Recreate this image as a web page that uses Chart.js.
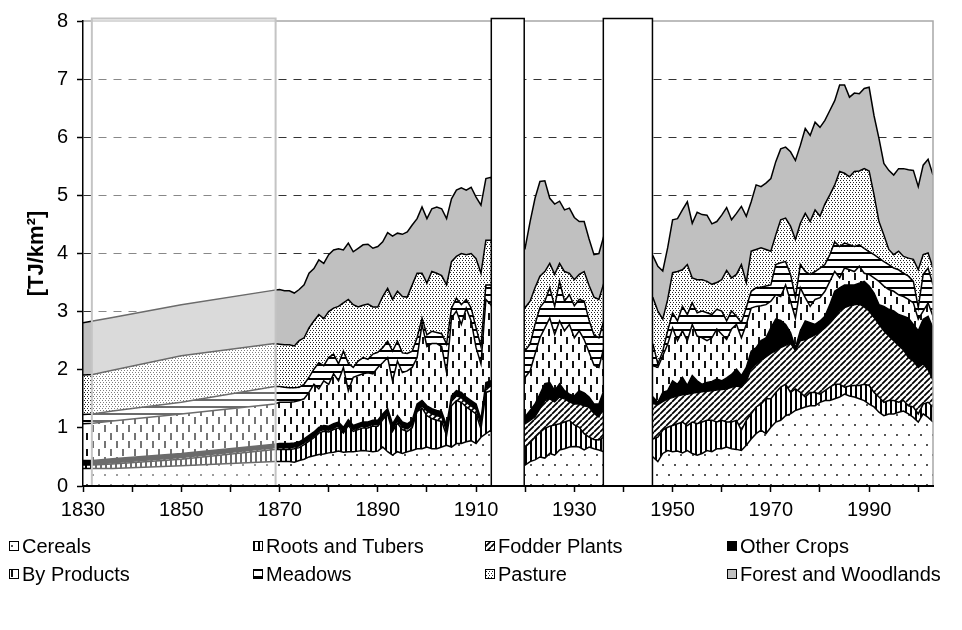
<!DOCTYPE html>
<html>
<head>
<meta charset="utf-8">
<script src="https://cdn.jsdelivr.net/npm/chart.js"></script>
<style>
  body { margin: 0; background: #fff; }
  #wrap { position: relative; width: 962px; height: 630px; }
  #legend { position: absolute; left: 0; top: 0; font: 20px "Liberation Sans", Arial, sans-serif; color: #000; }
  .item { position: absolute; white-space: nowrap; height: 22px; line-height: 22px; }
  .item canvas { position: absolute; left: 0; top: 6px; }
  .item span { position: absolute; left: 13px; top: 0; }
</style>
</head>
<body>
<div id="wrap">
  <canvas id="chart1" width="962" height="630"></canvas>
  <div id="legend"></div>
</div>
<script>
// energy per area, stacked by land use class

var years = [1830, 1832, 1836, 1850, 1869,
  1870, 1871, 1872, 1873, 1874, 1875, 1876, 1877, 1878, 1879, 1880, 1881, 1882, 1883, 1884, 1885,
  1886, 1887, 1888, 1889, 1890, 1891, 1892, 1893, 1894, 1895, 1896, 1897, 1898, 1899, 1900, 1901,
  1902, 1903, 1904, 1905, 1906, 1907, 1908, 1909, 1910, 1911, 1912, 1913,
  1920, 1921, 1922, 1923, 1924, 1925, 1926, 1927, 1928, 1929, 1930, 1931, 1932, 1933, 1934, 1935, 1936,
  1946, 1947, 1948, 1949, 1950, 1951, 1952, 1953, 1954, 1955, 1956, 1957, 1958, 1959, 1960, 1961,
  1962, 1963, 1964, 1965, 1966, 1967, 1968, 1969, 1970, 1971, 1972, 1973, 1974, 1975, 1976, 1977,
  1978, 1979, 1980, 1981, 1982, 1983, 1984, 1985, 1986, 1987, 1988, 1989, 1990, 1991, 1992, 1993,
  1994, 1995, 1996, 1997, 1998, 1999, 2000, 2001, 2002, 2003];

var cereals = [0.30, 0.30, 0.30, 0.35, 0.42,
  0.42, 0.42, 0.42, 0.41, 0.44, 0.46, 0.50, 0.52, 0.54, 0.55, 0.57, 0.58, 0.60, 0.58, 0.59, 0.59,
  0.60, 0.61, 0.60, 0.59, 0.60, 0.67, 0.59, 0.53, 0.59, 0.56, 0.59, 0.61, 0.64, 0.64, 0.67, 0.64,
  0.64, 0.67, 0.70, 0.67, 0.73, 0.73, 0.76, 0.78, 0.73, 0.84, 0.90, 0.96,
  0.36, 0.42, 0.45, 0.50, 0.48, 0.56, 0.53, 0.62, 0.64, 0.67, 0.68, 0.67, 0.62, 0.67, 0.64, 0.62, 0.59,
  0.50, 0.42, 0.56, 0.61, 0.59, 0.60, 0.57, 0.61, 0.56, 0.53, 0.56, 0.61, 0.59, 0.64, 0.64, 0.67,
  0.64, 0.63, 0.61, 0.70, 0.81, 0.90, 0.96, 0.90, 1.01, 1.10, 1.13, 1.21, 1.24, 1.30, 1.33, 1.36,
  1.38, 1.38, 1.44, 1.47, 1.47, 1.50, 1.53, 1.58, 1.55, 1.53, 1.50, 1.47, 1.41, 1.36, 1.27, 1.21,
  1.24, 1.24, 1.27, 1.29, 1.24, 1.18, 1.10, 1.24, 1.18, 1.10];

var roots = [0.06, 0.06, 0.08, 0.11, 0.21,
  0.21, 0.21, 0.21, 0.23, 0.22, 0.25, 0.27, 0.31, 0.37, 0.39, 0.36, 0.39, 0.40, 0.33, 0.45, 0.35,
  0.37, 0.39, 0.40, 0.44, 0.43, 0.47, 0.64, 0.41, 0.49, 0.41, 0.35, 0.39, 0.64, 0.70, 0.54, 0.52,
  0.49, 0.44, 0.17, 0.71, 0.74, 0.71, 0.60, 0.52, 0.51, 0.14, 0.71, 0.68,
  0.31, 0.33, 0.39, 0.42, 0.51, 0.47, 0.52, 0.45, 0.46, 0.46, 0.37, 0.34, 0.28, 0.17, 0.16, 0.17, 0.25,
  0.31, 0.42, 0.40, 0.40, 0.45, 0.47, 0.53, 0.43, 0.54, 0.54, 0.54, 0.52, 0.54, 0.46, 0.49, 0.43,
  0.46, 0.50, 0.35, 0.43, 0.43, 0.46, 0.45, 0.60, 0.49, 0.51, 0.57, 0.54, 0.37, 0.37, 0.28, 0.17,
  0.23, 0.23, 0.14, 0.17, 0.23, 0.25, 0.22, 0.12, 0.17, 0.20, 0.23, 0.28, 0.32, 0.25, 0.26, 0.23,
  0.23, 0.23, 0.17, 0.18, 0.14, 0.18, 0.14, 0.17, 0.26, 0.26];

var fodder = [0.01, 0.01, 0.02, 0.03, 0.03,
  0.03, 0.03, 0.03, 0.03, 0.03, 0.03, 0.03, 0.03, 0.03, 0.03, 0.03, 0.03, 0.03, 0.03, 0.03, 0.03,
  0.03, 0.03, 0.03, 0.03, 0.03, 0.03, 0.03, 0.04, 0.04, 0.04, 0.04, 0.04, 0.04, 0.04, 0.08, 0.08,
  0.08, 0.08, 0.08, 0.08, 0.08, 0.08, 0.08, 0.08, 0.08, 0.08, 0.08, 0.08,
  0.40, 0.38, 0.35, 0.41, 0.48, 0.47, 0.40, 0.46, 0.40, 0.32, 0.36, 0.40, 0.48, 0.52, 0.45, 0.40, 0.52,
  0.61, 0.56, 0.49, 0.49, 0.48, 0.48, 0.47, 0.54, 0.50, 0.54, 0.52, 0.50, 0.51, 0.55, 0.53, 0.57,
  0.60, 0.59, 0.74, 0.67, 0.78, 0.74, 0.75, 0.72, 0.78, 0.72, 0.68, 0.67, 0.85, 0.66, 0.89, 0.99,
  0.95, 0.99, 1.07, 1.08, 1.10, 1.15, 1.27, 1.37, 1.38, 1.39, 1.40, 1.33, 1.28, 1.29, 1.25, 1.23,
  1.11, 1.03, 0.98, 0.87, 0.83, 0.79, 0.80, 0.69, 0.56, 0.46];

var otherCrops = [0.07, 0.07, 0.07, 0.07, 0.06,
  0.07, 0.07, 0.07, 0.07, 0.07, 0.07, 0.07, 0.07, 0.07, 0.07, 0.07, 0.07, 0.07, 0.07, 0.07, 0.07,
  0.07, 0.07, 0.07, 0.07, 0.07, 0.07, 0.07, 0.09, 0.09, 0.09, 0.09, 0.09, 0.09, 0.09, 0.09, 0.09,
  0.09, 0.09, 0.09, 0.09, 0.09, 0.09, 0.09, 0.09, 0.09, 0.09, 0.09, 0.09,
  0.12, 0.17, 0.22, 0.25, 0.29, 0.28, 0.19, 0.23, 0.14, 0.13, 0.14, 0.23, 0.22, 0.17, 0.16, 0.22, 0.28,
  0.11, 0.04, 0.16, 0.14, 0.29, 0.20, 0.30, 0.15, 0.30, 0.20, 0.13, 0.15, 0.16, 0.19, 0.15, 0.19,
  0.22, 0.29, 0.20, 0.24, 0.30, 0.28, 0.34, 0.33, 0.44, 0.54, 0.47, 0.36, 0.18, 0.05, 0.17, 0.32,
  0.25, 0.18, 0.19, 0.20, 0.32, 0.45, 0.39, 0.39, 0.36, 0.34, 0.36, 0.44, 0.43, 0.42, 0.34, 0.42,
  0.46, 0.51, 0.53, 0.58, 0.68, 0.63, 0.63, 0.77, 0.92, 0.90];

var byProducts = [0.63, 0.64, 0.65, 0.68, 0.69,
  0.71, 0.71, 0.71, 0.71, 0.71, 0.69, 0.74, 0.82, 0.66, 0.77, 0.72, 0.86, 0.71, 1.03, 0.50, 0.83,
  0.83, 0.83, 0.85, 0.80, 0.91, 0.88, 0.88, 0.74, 0.94, 0.85, 0.91, 0.91, 0.80, 1.31, 1.02, 1.12,
  1.15, 1.12, 0.91, 1.34, 1.37, 1.17, 1.53, 1.37, 0.97, 0.95, 1.43, 1.31,
  0.68, 0.68, 0.86, 0.97, 0.96, 1.11, 0.97, 1.08, 1.03, 1.20, 1.00, 1.03, 0.92, 0.77, 0.67, 0.63, 0.74,
  0.54, 0.60, 0.63, 0.80, 0.91, 0.75, 0.80, 0.77, 0.88, 0.77, 0.80, 0.72, 0.75, 0.86, 0.80, 0.66,
  0.78, 0.77, 0.65, 0.74, 0.74, 0.71, 0.60, 0.57, 0.46, 0.42, 0.41, 0.68, 0.54, 0.51, 0.74, 0.40,
  0.28, 0.43, 0.40, 0.43, 0.40, 0.34, 0.17, 0.29, 0.26, 0.23, 0.29, 0.14, 0.20, 0.26, 0.40, 0.35,
  0.34, 0.34, 0.34, 0.34, 0.32, 0.37, 0.20, 0.14, 0.23, 0.20];

var meadows = [0.16, 0.16, 0.17, 0.20, 0.30,
  0.27, 0.26, 0.25, 0.24, 0.23, 0.25, 0.26, 0.26, 0.45, 0.26, 0.46, 0.34, 0.29, 0.28, 0.47, 0.17,
  0.25, 0.28, 0.23, 0.34, 0.26, 0.26, 0.28, 0.51, 0.34, 0.34, 0.30, 0.28, 0.34, 0.11, 0.20, 0.21,
  0.19, 0.22, 0.49, 0.17, 0.22, 0.34, 0.15, 0.22, 0.34, 0.30, 0.25, 0.34,
  0.46, 0.46, 0.51, 0.52, 0.46, 0.52, 0.48, 0.68, 0.51, 0.51, 0.55, 0.54, 0.66, 0.55, 0.52, 0.51, 0.46,
  0.37, 0.06, 0.08, 0.23, 0.26, 0.34, 0.42, 0.45, 0.37, 0.40, 0.46, 0.48, 0.40, 0.34, 0.40, 0.32,
  0.31, 0.14, 0.26, 0.29, 0.29, 0.32, 0.32, 0.32, 0.28, 0.52, 0.58, 0.40, 0.46, 0.35, 0.40, 0.45,
  0.55, 0.48, 0.51, 0.46, 0.46, 0.51, 0.54, 0.43, 0.43, 0.43, 0.37, 0.43, 0.39, 0.40, 0.40, 0.42,
  0.43, 0.40, 0.43, 0.40, 0.40, 0.37, 0.20, 0.63, 0.60, 0.54];

var pasture = [0.68, 0.68, 0.70, 0.80, 0.74,
  0.73, 0.73, 0.74, 0.72, 0.80, 0.80, 0.85, 0.83, 0.83, 0.81, 0.79, 0.79, 0.99, 0.83, 1.10, 1.08,
  0.93, 0.90, 0.95, 0.81, 0.78, 0.88, 0.91, 0.89, 0.86, 0.97, 0.97, 1.14, 1.11, 0.77, 0.89, 1.03,
  1.02, 1.00, 1.02, 0.80, 0.72, 0.88, 0.77, 0.94, 1.19, 1.26, 0.77, 0.77,
  0.74, 0.74, 0.63, 0.54, 0.51, 0.42, 0.55, 0.31, 0.51, 0.37, 0.45, 0.43, 0.51, 0.60, 0.65, 0.66, 0.65,
  0.80, 0.91, 0.55, 0.54, 0.69, 0.85, 0.63, 0.86, 0.43, 0.57, 0.54, 0.54, 0.52, 0.46, 0.54, 0.87,
  0.57, 0.72, 1.00, 0.43, 0.69, 0.66, 0.68, 0.63, 0.58, 0.51, 0.74, 0.75, 0.83, 1.00, 0.71, 1.00,
  0.91, 1.06, 0.89, 1.04, 1.03, 0.98, 1.29, 1.20, 1.17, 1.29, 1.27, 1.37, 1.39, 1.03, 0.63, 0.46,
  0.26, 0.23, 0.32, 0.29, 0.31, 0.38, 0.65, 0.34, 0.26, 0.29];

var forest = [0.90, 0.92, 0.91, 0.88, 0.92,
  0.94, 0.93, 0.93, 0.91, 0.88, 0.91, 0.94, 0.90, 0.94, 0.95, 0.98, 1.00, 0.99, 0.91, 0.97, 0.91,
  1.01, 1.04, 1.03, 1.01, 1.04, 0.94, 0.96, 1.09, 1.00, 1.07, 1.12, 1.03, 0.94, 1.14, 1.11, 1.08,
  1.14, 1.15, 1.14, 1.08, 1.14, 1.13, 1.11, 1.14, 1.06, 1.17, 1.06, 1.08,
  1.03, 1.37, 1.54, 1.63, 1.56, 1.12, 1.21, 1.07, 1.06, 1.12, 1.07, 0.91, 0.86, 0.80, 0.73, 0.79, 0.81,
  0.72, 0.77, 0.83, 0.89, 0.91, 0.91, 1.03, 1.08, 0.94, 1.16, 1.12, 1.14, 1.04, 1.05, 1.11, 1.08,
  1.00, 1.05, 1.00, 1.14, 0.85, 1.11, 1.05, 1.14, 1.25, 1.26, 1.22, 1.22, 1.28, 1.36, 1.34, 1.46,
  1.48, 1.51, 1.53, 1.44, 1.45, 1.45, 1.49, 1.52, 1.37, 1.35, 1.33, 1.38, 1.44, 1.36, 1.43, 1.23,
  1.36, 1.37, 1.42, 1.51, 1.52, 1.53, 1.43, 1.54, 1.61, 1.60];

var seriesNames = ['Cereals', 'Roots and Tubers', 'Fodder Plants', 'Other Crops',
  'By Products', 'Meadows', 'Pasture', 'Forest and Woodlands'];
var xTickYears = [1830, 1840, 1850, 1860, 1870, 1880, 1890, 1900, 1910, 1920, 1930, 1940, 1950, 1960, 1970, 1980, 1990, 2000];
var xLabelYears = [1830, 1850, 1870, 1890, 1910, 1930, 1950, 1970, 1990];
var shadedSpan = [1831.8, 1869.2];              // reconstructed years, greyed out
var gapSpans = [[1913.1, 1919.8], [1935.9, 1945.9]]; // war years, no data

Chart.defaults.font.family = '"Liberation Sans", Arial, sans-serif';
Chart.defaults.color = '#000';

// fill patterns, one tile per class
function tile(w, h, draw) {
  var c = document.createElement('canvas');
  c.width = w; c.height = h;
  var g = c.getContext('2d');
  g.fillStyle = '#fff';
  g.fillRect(0, 0, w, h);
  draw(g);
  return c;
}
var tiles = [
  tile(12, 20, function (g) { g.fillStyle = '#555'; g.fillRect(2, 4, 2, 2); g.fillRect(8, 14, 2, 2); }),
  tile(5, 4, function (g) { g.fillStyle = '#000'; g.fillRect(0, 0, 2, 4); }),
  tile(6, 6, function (g) {
    g.strokeStyle = '#000'; g.lineWidth = 1.7; g.beginPath();
    [-6, 0, 6].forEach(function (k) { g.moveTo(k, 6); g.lineTo(k + 6, 0); });
    g.stroke();
  }),
  '#000',
  tile(12, 16, function (g) { g.fillStyle = '#111'; g.fillRect(2, 1, 2, 7); g.fillRect(8, 9, 2, 7); }),
  tile(4, 7, function (g) { g.fillStyle = '#000'; g.fillRect(0, 0, 4, 2); }),
  tile(6, 4, function (g) {
    g.fillStyle = '#222';
    g.fillRect(0, 0, 1, 1); g.fillRect(3, 0, 1, 1); g.fillRect(1, 2, 1, 1); g.fillRect(4, 2, 1, 1);
  }),
  '#c0c0c0'
];
function paint(ctx, t) {
  return typeof t === 'string' ? t : ctx.createPattern(t, 'repeat');
}

var graph = document.getElementById('chart1');
var gctx = graph.getContext('2d');
var series = [cereals, roots, fodder, otherCrops, byProducts, meadows, pasture, forest];

var datasets = series.map(function (vals, i) {
  return {
    label: seriesNames[i],
    data: years.map(function (yr, j) { return {x: yr, y: vals[j]}; }),
    backgroundColor: paint(gctx, tiles[i]),
    borderColor: '#000',
    borderWidth: 1.5,
    fill: i === 0 ? 'origin' : '-1',
    pointRadius: 0,
    tension: 0
  };
});

// white boxes over the gaps, faded box over the early years
var boxes = {
  id: 'boxes',
  afterDatasetsDraw: function (chart) {
    var ctx = chart.ctx, xs = chart.scales.x, a = chart.chartArea;
    var top = a.top - 2.5;
    ctx.save();
    ctx.strokeStyle = '#a8a8a8';
    ctx.lineWidth = 1.5;
    ctx.beginPath();
    ctx.moveTo(a.left, a.top);
    ctx.lineTo(a.right, a.top);
    ctx.lineTo(a.right, a.bottom);
    ctx.stroke();

    var x0 = xs.getPixelForValue(shadedSpan[0]), x1 = xs.getPixelForValue(shadedSpan[1]);
    ctx.fillStyle = 'rgba(255,255,255,0.42)';
    ctx.fillRect(x0, top, x1 - x0, a.bottom - top);
    ctx.strokeStyle = '#c4c4c4';
    ctx.lineWidth = 2;
    ctx.strokeRect(x0, top, x1 - x0, a.bottom - top);

    gapSpans.forEach(function (s) {
      var g0 = xs.getPixelForValue(s[0]), g1 = xs.getPixelForValue(s[1]);
      ctx.fillStyle = '#fff';
      ctx.fillRect(g0, top, g1 - g0, a.bottom - top);
      ctx.strokeStyle = '#000';
      ctx.lineWidth = 1.5;
      ctx.strokeRect(g0, top, g1 - g0, a.bottom - top);
    });
    ctx.restore();
  }
};

var myChart = new Chart(graph, {
  type: 'line',
  data: { datasets: datasets },
  options: {
    responsive: false,
    animation: false,
    layout: { padding: { left: 0, right: 29, top: 17, bottom: 104 } },
    plugins: { legend: { display: false }, tooltip: { enabled: false } },
    scales: {
      x: {
        type: 'linear',
        min: 1830,
        max: 2003,
        afterBuildTicks: function (s) { s.ticks = xTickYears.map(function (v) { return {value: v}; }); },
        afterFit: function (s) { s.height = 40; },
        grid: { drawOnChartArea: false, drawTicks: true, tickLength: 6, tickColor: '#000', tickWidth: 1.5 },
        border: { color: '#000', width: 2, z: 1 },
        ticks: {
          autoSkip: false, maxRotation: 0, padding: 6, font: { size: 20 },
          callback: function (v) { return xLabelYears.indexOf(v) >= 0 ? String(v) : ''; }
        }
      },
      y: {
        stacked: true,
        min: 0,
        max: 8,
        afterFit: function (s) { s.width = 83; },
        ticks: { stepSize: 1, padding: 9, font: { size: 20 } },
        grid: {
          color: function (c) { return c.tick && c.tick.value > 0 && c.tick.value < 8 ? '#333' : 'rgba(0,0,0,0)'; },
          lineWidth: 1, tickLength: 6, tickColor: '#000', tickWidth: 1.5
        },
        border: { color: '#000', width: 1.5, dash: [8, 7], z: 1 },
        title: { display: true, text: '[TJ/km²]', font: { size: 22, weight: 'bold' }, padding: { top: 24, bottom: 0 } }
      }
    }
  },
  plugins: [boxes]
}); // ends chart

// legend below the plot, four columns
var legend = document.getElementById('legend');
var cols = [9, 253, 485, 727], rows = [535, 563];
seriesNames.forEach(function (name, i) {
  var item = document.createElement('div');
  item.className = 'item';
  item.style.left = cols[i % 4] + 'px';
  item.style.top = rows[Math.floor(i / 4)] + 'px';
  var sw = document.createElement('canvas');
  sw.width = 10; sw.height = 10;
  var g = sw.getContext('2d');
  g.fillStyle = paint(g, tiles[i]);
  g.fillRect(0, 0, 10, 10);
  g.strokeStyle = '#000';
  g.lineWidth = 1;
  g.strokeRect(0.5, 0.5, 9, 9);
  var tx = document.createElement('span');
  tx.textContent = name;
  item.appendChild(sw);
  item.appendChild(tx);
  legend.appendChild(item);
});
</script>
</body>
</html>
